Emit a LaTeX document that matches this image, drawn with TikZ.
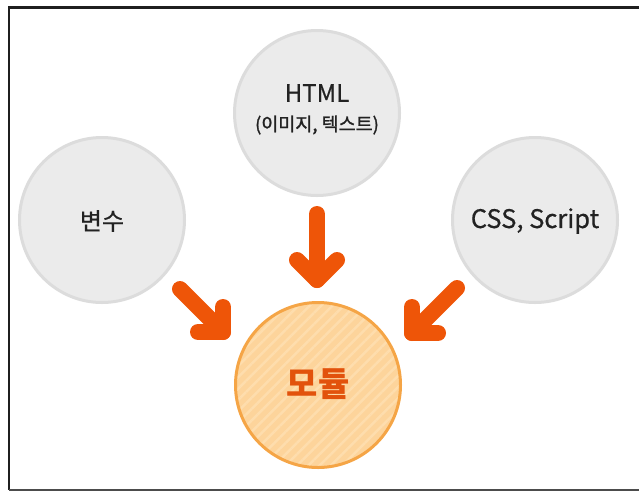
\documentclass[tikz,border=0pt]{standalone}
\usepackage{fontspec}
\setmainfont{Noto Sans CJK KR}
\newfontfamily\krmed[FakeBold=0.6]{Noto Sans CJK KR}
\newfontfamily\krsemi[FakeBold=1.3]{Noto Sans CJK KR}
\usetikzlibrary{patterns.meta}
\definecolor{grayfill}{HTML}{EBEBEB}
\definecolor{grayline}{HTML}{DCDCDC}
\definecolor{modfill}{HTML}{FDD49B}
\definecolor{modstripe}{HTML}{FEDDAD}
\definecolor{modline}{HTML}{F5A546}
\definecolor{modtext}{HTML}{E2520C}
\definecolor{arrowc}{HTML}{EE5508}
\definecolor{txt}{HTML}{222222}
\tikzset{
  graycircle/.style={circle, minimum size=165pt, inner sep=0pt, fill=grayfill, draw=grayline, line width=3pt},
  modcircle/.style={circle, minimum size=165pt, inner sep=0pt, preaction={fill=modfill},
    pattern={Lines[angle=45,distance=8pt,line width=2.5pt]}, pattern color=modstripe,
    draw=modline, line width=3pt},
  lbl/.style={text=txt, inner sep=0pt, font=\krmed\fontsize{24pt}{27pt}\selectfont},
  csslbl/.style={text=txt, inner sep=0pt, font=\krmed\fontsize{25.5pt}{28pt}\selectfont},
  sublbl/.style={text=txt, inner sep=0pt, font=\krsemi\fontsize{18.5pt}{21pt}\selectfont},
  modlbl/.style={text=modtext, inner sep=0pt, font=\bfseries\fontsize{34pt}{38pt}\selectfont},
  arr/.style={draw=arrowc, line width=16pt, line cap=round, line join=round},
  frame/.style={draw=black!88, line width=2.5pt}
}
\begin{document}
\begin{tikzpicture}[x=1pt,y=-1pt]
\useasboundingbox (0,0) rectangle (639,491);
% frame
\coordinate (ftr) at (650,7.5);
\coordinate (ftl) at (9,7.5);
\coordinate (fbl) at (9,490);
\coordinate (fbr) at (650,490);
\draw[frame] (ftr) -- (ftl) -- (fbl);
\draw[draw=black!70, line width=2pt] (fbl) -- (fbr);
% circles
\node[graycircle] (var) at (102,220) {};
\node[graycircle] (html) at (317,113) {};
\node[graycircle] (css) at (535,220) {};
\node[modcircle] (mod) at (318,385) {};
% labels
\node[lbl] (tvar) at (102,221) {변수};
\node[lbl] (thtml) at (317,93) {HTML};
\node[sublbl] (tsub) at (317,125) {(이미지, 텍스트)};
\node[csslbl] (tcss) at (535,221) {CSS, Script};
\node[modlbl] (tmod) at (318,384) {모듈};
% arrows
\coordinate (a1s) at (180,289);
\coordinate (a1t) at (223,332);
\coordinate (a1h1) at (223,307);
\coordinate (a1h2) at (198,332);
\draw[arr] (a1s) -- (a1t);
\draw[arr] (a1h1) -- (a1t) -- (a1h2);
\coordinate (a2s) at (317,214);
\coordinate (a2t) at (317,280);
\coordinate (a2h1) at (297,260);
\coordinate (a2h2) at (337,260);
\draw[arr] (a2s) -- (a2t);
\draw[arr] (a2h1) -- (a2t) -- (a2h2);
\coordinate (a3s) at (457,288);
\coordinate (a3t) at (412,333);
\coordinate (a3h1) at (412,307);
\coordinate (a3h2) at (438,333);
\draw[arr] (a3s) -- (a3t);
\draw[arr] (a3h1) -- (a3t) -- (a3h2);
\end{tikzpicture}
\end{document}
